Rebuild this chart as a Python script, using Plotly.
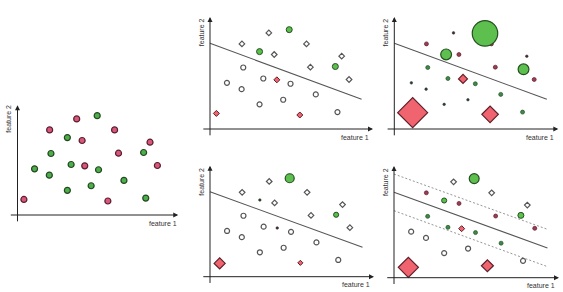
import plotly.graph_objects as go

# ---------------- data (feature space) ----------------
point_x = [0.39, 1.04, 1.94, 1.96, 2.04, 3.04, 3.04, 3.61, 3.27, 3.94, 4.10,
           4.49, 4.86, 4.94, 5.51, 5.92, 6.16, 6.49, 7.69, 7.82, 8.08, 8.53]
point_y = [1.39, 4.12, 3.56, 7.60, 5.49, 6.91, 2.20, 8.58, 4.51, 6.65, 4.39,
           2.61, 8.87, 4.04, 1.25, 7.60, 5.52, 3.09, 5.58, 1.51, 6.50, 4.42]
point_class = ['red', 'green', 'green', 'red', 'green', 'green', 'green', 'red',
               'green', 'red', 'red', 'green', 'green', 'green', 'red', 'red',
               'red', 'green', 'green', 'green', 'red', 'red']

# per-point loss weights (relative)
zero_one_loss = [1, 0, 0, 0, 0, 1, 0, 0, 0, 0, 1, 0, 1, 0, 1, 0, 0, 0, 1, 0, 0, 0]
exp_loss = [1.0, .07, .07, .13, .13, .36, .07, .07, .13, .13, .30,
            .07, .85, .13, .55, .13, .13, .13, .36, .13, .07, .13]
perc_loss = [.37, 0, 0, 0, 0, .07, 0, 0, 0, 0, .07,
             0, .30, 0, .17, 0, 0, 0, .17, 0, 0, 0]
lm_loss = [.67, 0, 0, .10, .10, .17, 0, 0, .10, .10, .20,
           0, .33, .10, .40, 0, .10, .10, .20, 0, 0, .10]

# drawn positions that differ in the weighted panels
exp_moved = {0: (1.12, 1.46), 12: (5.53, 8.54), 14: (5.84, 1.31),
             10: (4.19, 4.47), 5: (3.16, 6.66), 18: (7.88, 5.33)}
perc_moved = {0: (0.59, 1.20)}
lm_moved = {0: (0.87, 0.93), 14: (5.66, 1.07)}

# classifier and margins
boundary_x = [0.0, 9.3]
boundary_y = [7.65, 2.66]
margin_upper_y = [9.28, 4.33]
margin_lower_y = [6.00, 0.99]

titles = ['Dataset', '0/1 Loss', 'Exponential Loss', 'Perceptron Loss', 'Large-Margin Loss']

# ---------------- layout config ----------------
W, H = 563, 292
panels = [
    dict(ox=17.5, oy=215.0, sx=16.4, sy=11.2, xend=9.8, yend=9.8, tx=4.89, ty=10.56),
    dict(ox=210.0, oy=129.0, sx=16.3, sy=11.2, xend=10.0, yend=10.0, tx=4.70, ty=10.60),
    dict(ox=394.3, oy=129.0, sx=16.4, sy=11.2, xend=10.0, yend=10.0, tx=4.37, ty=10.69),
    dict(ox=210.0, oy=276.7, sx=16.4, sy=11.1, xend=10.0, yend=10.0, tx=4.80, ty=10.67),
    dict(ox=394.0, oy=277.7, sx=16.5, sy=11.17, xend=10.0, yend=10.0, tx=4.30, ty=10.70),
]
XR = [-1.0, 10.2]
YR = [-1.2, 10.4]

FILL = {'green': '#5cbf4e', 'red': '#f0646f'}
EDGE = {'green': '#24501f', 'red': '#5e1f29'}
SMALL_FILL = {'green': '#3d8a4c', 'red': '#9a3d55'}
TINY_FILL = {'green': '#2a3f30', 'red': '#3f2a30'}
DS_FILL = {'green': '#4fae4c', 'red': '#d9577a'}
DS_EDGE = {'green': '#22491f', 'red': '#5a1e30'}
LINE_COL = '#555555'
AX_COL = '#222222'
FONT = 'Liberation Sans, Arial, sans-serif'

fig = go.Figure()
layout = dict(width=W, height=H, margin=dict(l=0, r=0, t=0, b=0),
              paper_bgcolor='white', plot_bgcolor='white', showlegend=False)
annotations = []


def axname(i):
    return '' if i == 0 else str(i + 1)


def marker_style(cls, w, hollow_if_zero, fixed_size=None):
    sym = 'diamond' if cls == 'red' else 'circle'
    if hollow_if_zero and w == 0:
        size = 5 if sym == 'circle' else 4.3
        return sym, size, 'white', '#555555', 1.2
    d = fixed_size if fixed_size is not None else 30.0 * w
    size = d if sym == 'circle' else d / 1.3
    if d <= 2.5:
        return 'circle', 2.6, TINY_FILL[cls], TINY_FILL[cls], 0.5
    if d <= 4.5:
        return 'circle', 4, SMALL_FILL[cls], EDGE[cls], 0.7
    lw = 1.2 if d > 8 else 1.0
    return sym, size, FILL[cls], EDGE[cls], lw


for i, p in enumerate(panels):
    n = axname(i)
    xd = [(p['ox'] + XR[0] * p['sx']) / W, (p['ox'] + XR[1] * p['sx']) / W]
    ybot = p['oy'] - YR[0] * p['sy']
    ytop = p['oy'] - YR[1] * p['sy']
    yd = [1 - ybot / H, 1 - ytop / H]
    layout['xaxis' + n] = dict(domain=xd, range=XR, visible=False, fixedrange=True,
                               anchor='y' + n)
    layout['yaxis' + n] = dict(domain=yd, range=YR, visible=False, fixedrange=True,
                               anchor='x' + n)
    xr, yr = 'x' + n, 'y' + n

    # axes arrows
    annotations.append(dict(x=p['xend'], y=0, ax=-0.5, ay=0, xref=xr, yref=yr,
                            axref=xr, ayref=yr, showarrow=True, arrowhead=2,
                            arrowsize=1, arrowwidth=1, arrowcolor=AX_COL, text=''))
    annotations.append(dict(x=0, y=p['yend'], ax=0, ay=-0.7, xref=xr, yref=yr,
                            axref=xr, ayref=yr, showarrow=True, arrowhead=2,
                            arrowsize=1, arrowwidth=1, arrowcolor=AX_COL, text=''))
    # axis labels
    annotations.append(dict(x=8.9, y=-0.72, xref=xr, yref=yr, text='feature 1',
                            showarrow=False, xanchor='center', yanchor='middle',
                            font=dict(family=FONT, size=7, color='#333')))
    annotations.append(dict(x=-0.52, y=8.6, xref=xr, yref=yr, text='feature 2',
                            showarrow=False, textangle=-90, xanchor='center',
                            yanchor='middle', font=dict(family=FONT, size=7, color='#333')))
    # title
    annotations.append(dict(x=p['tx'], y=p['ty'], xref=xr, yref=yr, text=titles[i],
                            showarrow=False, xanchor='center', yanchor='middle',
                            font=dict(family=FONT, size=11, color='#222')))

    # decision boundary
    if i > 0:
        fig.add_trace(go.Scatter(x=boundary_x, y=boundary_y, mode='lines',
                                 line=dict(color=LINE_COL, width=1.1),
                                 xaxis=xr, yaxis=yr, hoverinfo='skip'))
    if i == 4:
        for my in (margin_upper_y, margin_lower_y):
            fig.add_trace(go.Scatter(x=boundary_x, y=my, mode='lines',
                                     line=dict(color='#8a8a8a', width=0.9, dash='2px,2px'),
                                     xaxis=xr, yaxis=yr, hoverinfo='skip'))

    # points
    xs, ys, syms, sizes, fills, edges, lws = [], [], [], [], [], [], []
    for k in range(len(point_x)):
        cls = point_class[k]
        px, py = point_x[k], point_y[k]
        if i == 0:
            s, sz, f, e, lw = 'circle', 6, DS_FILL[cls], DS_EDGE[cls], 1.2
        elif i == 1:
            w = zero_one_loss[k]
            s, sz, f, e, lw = marker_style(cls, w, True, fixed_size=6)
        elif i == 2:
            px, py = exp_moved.get(k, (px, py))
            s, sz, f, e, lw = marker_style(cls, exp_loss[k], False)
        elif i == 3:
            px, py = perc_moved.get(k, (px, py))
            s, sz, f, e, lw = marker_style(cls, perc_loss[k], True)
        else:
            px, py = lm_moved.get(k, (px, py))
            s, sz, f, e, lw = marker_style(cls, lm_loss[k], True)
        xs.append(px); ys.append(py); syms.append(s); sizes.append(sz)
        fills.append(f); edges.append(e); lws.append(lw)
    order = sorted(range(len(xs)), key=lambda j: sizes[j])
    fig.add_trace(go.Scatter(
        x=[xs[j] for j in order], y=[ys[j] for j in order], mode='markers',
        marker=dict(symbol=[syms[j] for j in order], size=[sizes[j] for j in order],
                    color=[fills[j] for j in order], opacity=1,
                    line=dict(color=[edges[j] for j in order], width=[lws[j] for j in order])),
        xaxis=xr, yaxis=yr, cliponaxis=False, hoverinfo='skip'))

layout['annotations'] = annotations
fig.update_layout(**layout)
fig.write_html('out.html')
